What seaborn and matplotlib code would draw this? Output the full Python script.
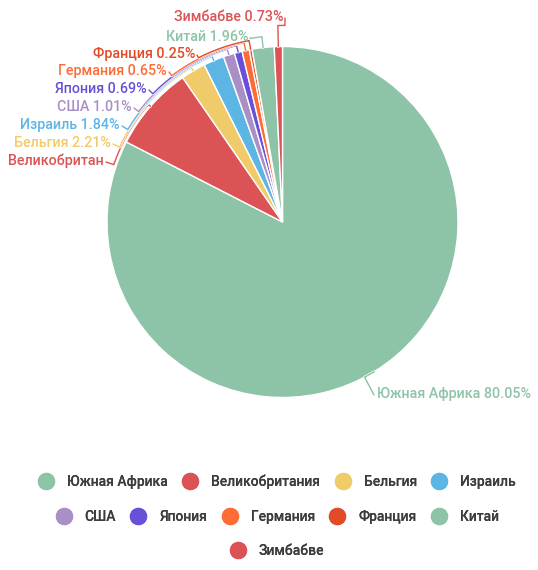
import numpy as np
import matplotlib.pyplot as plt
import matplotlib.patheffects as pe
import seaborn as sns
from matplotlib.lines import Line2D

# Data
countries = ['Южная Африка', 'Великобритания', 'Бельгия', 'Израиль', 'США',
             'Япония', 'Германия', 'Франция', 'Китай', 'Зимбабве']
shares = [80.05, 7.6, 2.21, 1.84, 1.01, 0.69, 0.65, 0.25, 1.96, 0.73]
colors = ['#8dc3a7', '#dc5356', '#f0cb69', '#5db5e4', '#a98fc6',
          '#6a4fd9', '#ff6b35', '#e14b25', '#8dc3a7', '#dc5356']

sns.set_theme(style='white')
plt.rcParams['font.family'] = ['Roboto', 'DejaVu Sans']

W, H = 538, 570
cx, cy, rad = 282.5, 222, 175.5

fig = plt.figure(figsize=(W / 100, H / 100), dpi=100)
ax = fig.add_axes([(cx - rad) / W, (H - cy - rad) / H, 2 * rad / W, 2 * rad / H])
wedges, _ = ax.pie(shares, colors=colors, startangle=90, counterclock=False,
                   radius=1, wedgeprops=dict(edgecolor='white', linewidth=1))
ax.set_xlim(-1, 1)
ax.set_ylim(-1, 1)
ax.set_aspect('equal')
ax.axis('off')

# label layout: anchor pixel (x, y), arc radius, text alignment
layout = [
    ((374, 395), 1.0, 'left'),     # Южная Африка
    ((106, 162), 1.015, 'right'),  # Великобритания
    ((113, 144), 1.021, 'right'),
    ((122, 126), 1.027, 'right'),
    ((134, 108), 1.033, 'right'),
    ((149, 90), 1.039, 'right'),
    ((169, 72), 1.045, 'right'),
    ((197, 55), 1.051, 'right'),
    ((250, 38), 1.062, 'right'),   # Китай
    ((285, 18), 1.12, 'right'),    # Зимбабве
]

halo = [pe.Stroke(linewidth=2.0, foreground='white'), pe.Normal()]
for i, (w, name, val, col) in enumerate(zip(wedges, countries, shares, colors)):
    (px, py), R, ha = layout[i]
    th = np.deg2rad((w.theta1 + w.theta2) / 2)
    dx, dy = (px - cx) / rad, (cy - py) / rad
    phi = np.arctan2(dy, dx)
    diff = (phi - th + np.pi) % (2 * np.pi) - np.pi
    arc = np.linspace(th, th + diff, 80)
    xs = np.concatenate([[np.cos(th)], R * np.cos(arc), [dx]])
    ys = np.concatenate([[np.sin(th)], R * np.sin(arc), [dy]])
    ax.plot(xs, ys, color=col, lw=1, clip_on=False, zorder=5 + i * 0.1,
            path_effects=halo)
    if i == 1:
        txt = name[:12]
    else:
        txt = f'{name} {val:.2f}%'
    off = 3 / rad if ha == 'left' else -2 / rad
    ax.text(dx + off, dy + 1 / rad, txt, color=col, ha=ha, va='center',
            fontsize=10.3, fontweight='medium', clip_on=False, zorder=10)

# Legend in centered rows
handles = [Line2D([], [], marker='o', ls='', markersize=12.5, color=c,
                  markeredgewidth=0) for c in colors]
rows = [(0, 4, 482), (4, 9, 517), (9, 10, 551)]
for a, b, ypix in rows:
    leg = fig.legend(handles[a:b], countries[a:b], loc='center',
                     bbox_to_anchor=(277 / W, 1 - ypix / H), ncol=b - a,
                     frameon=False, fontsize=10, handlelength=1.22,
                     handletextpad=0.9, columnspacing=1.0, borderpad=0,
                     borderaxespad=0)
    for t in leg.get_texts():
        t.set_color('#3d3d3d')
        t.set_fontweight('medium')
    fig.add_artist(leg)

fig.savefig('out.png', dpi=100, facecolor='white')
